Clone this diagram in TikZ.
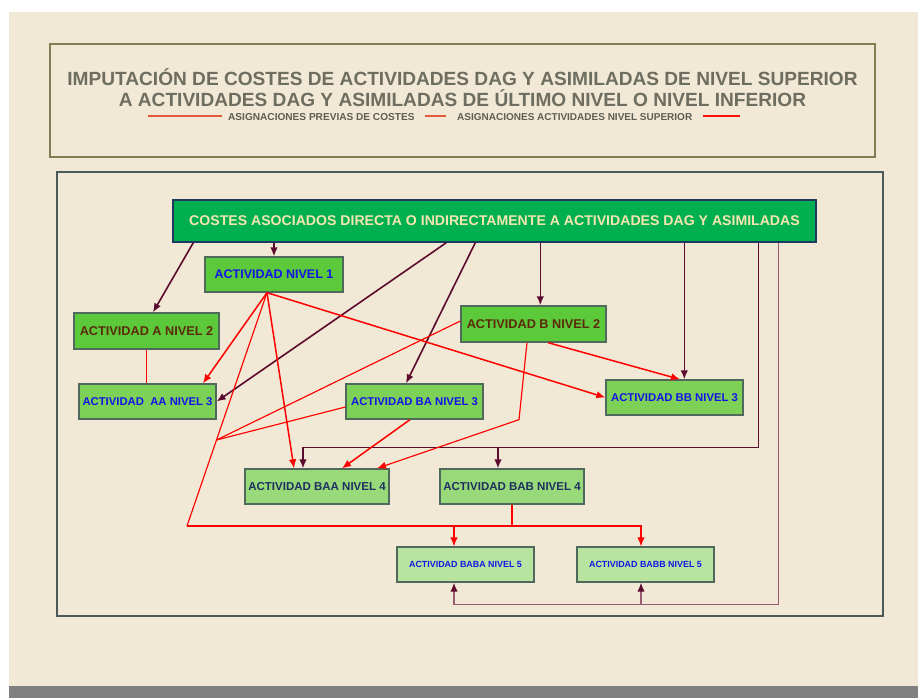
\documentclass[tikz,border=0pt]{standalone}
\usepackage{fontspec}
\setmainfont{Liberation Sans}
\usetikzlibrary{arrows.meta}
\definecolor{bg}{HTML}{F1E8D5}
\definecolor{barg}{HTML}{808080}
\definecolor{olivebd}{HTML}{7E7E52}
\definecolor{framebd}{HTML}{4A5A58}
\definecolor{titleg}{HTML}{6E6E60}
\definecolor{subred}{HTML}{E2583A}
\definecolor{topfill}{HTML}{00B050}
\definecolor{topbd}{HTML}{1F3A5F}
\definecolor{cream}{HTML}{F5E6B0}
\definecolor{gA}{HTML}{5CC93A}
\definecolor{gB}{HTML}{7ED157}
\definecolor{gC}{HTML}{98D97A}
\definecolor{gD}{HTML}{B8E3A0}
\definecolor{boxbd}{HTML}{4F6A5C}
\definecolor{bluet}{HTML}{1414E6}
\definecolor{brownt}{HTML}{5A2A0A}
\definecolor{navyt}{HTML}{1F3060}
\definecolor{mar}{HTML}{5C0A2E}
\definecolor{mauve}{HTML}{9A5A70}
\definecolor{redl}{HTML}{FF0000}
\tikzset{
  lvA/.style={draw=boxbd, line width=1.3pt, inner sep=0pt, fill=gA, minimum width=145pt, minimum height=36pt},
  lvB/.style={draw=boxbd, line width=1.3pt, inner sep=0pt, fill=gB, minimum width=137pt, minimum height=35pt, text=bluet, font=\bfseries\fontsize{11.3}{13}\selectfont},
  lvC/.style={draw=boxbd, line width=1.3pt, inner sep=0pt, fill=gC, minimum width=144pt, minimum height=35pt, text=navyt, font=\bfseries\fontsize{11.5}{13}\selectfont},
  lvD/.style={draw=boxbd, line width=1.3pt, inner sep=0pt, fill=gD, minimum width=137pt, minimum height=35pt, text=bluet, font=\bfseries\fontsize{8.9}{10}\selectfont},
  tip/.style={-{Latex[length=9pt,width=7.5pt]}},
  mline/.style={draw=mar, line width=1.6pt},
  mvline/.style={draw=mauve, line width=1.6pt},
  rline/.style={draw=redl, line width=1.5pt},
  rthin/.style={draw=redl, line width=1.15pt}
}
\begin{document}
\begin{tikzpicture}[x=1pt,y=-1pt]
\useasboundingbox (0,0) rectangle (918,698);
\fill[white] (0,0) rectangle (918,698);
\fill[bg] (9,12) rectangle (918,686);
\fill[barg] (9,686) rectangle (918,698);

% title box
\draw[olivebd, line width=1.7pt] (50,44) rectangle (875,157);
\node[anchor=base, text=titleg, font=\bfseries\fontsize{19.1}{22}\selectfont, inner sep=0pt] (title1) at (462.5,85.5)
  {IMPUTACIÓN DE COSTES DE ACTIVIDADES DAG Y ASIMILADAS DE NIVEL SUPERIOR};
\node[anchor=base, text=titleg, font=\bfseries\fontsize{19.1}{22}\selectfont, inner sep=0pt] (title2) at (462.5,107)
  {A ACTIVIDADES DAG Y ASIMILADAS DE ÚLTIMO NIVEL O NIVEL INFERIOR};
\node[anchor=base west, text=titleg!85!black, font=\bfseries\fontsize{10.1}{12}\selectfont, inner sep=0pt] (sub1) at (228,121)
  {ASIGNACIONES PREVIAS DE COSTES};
\node[anchor=base west, text=titleg!85!black, font=\bfseries\fontsize{10}{12}\selectfont, inner sep=0pt] (sub2) at (457,121)
  {ASIGNACIONES ACTIVIDADES NIVEL SUPERIOR};
\coordinate (sl1a) at (148,116); \coordinate (sl1b) at (222,116);
\coordinate (sl2a) at (425,116); \coordinate (sl2b) at (446,116);
\coordinate (sl3a) at (703,116); \coordinate (sl3b) at (740,116);
\draw[subred, line width=1.5pt] (sl1a) -- (sl1b);
\draw[subred, line width=1.5pt] (sl2a) -- (sl2b);
\draw[redl!80!subred, line width=1.5pt] (sl3a) -- (sl3b);

% main frame
\draw[framebd, line width=2.2pt] (57,172) rectangle (883,616);

% nodes
\node[draw=topbd, line width=1.4pt, fill=topfill, inner sep=0pt, minimum width=643pt, minimum height=42pt,
      text=cream, font=\bfseries\fontsize{14.1}{16}\selectfont] (top) at (494.5,221)
  {COSTES ASOCIADOS DIRECTA O INDIRECTAMENTE A ACTIVIDADES DAG Y ASIMILADAS};
\node[lvA, minimum width=138pt, minimum height=35pt, text=bluet, font=\bfseries\fontsize{12.5}{14}\selectfont] (n1) at (274,274.5) {ACTIVIDAD NIVEL 1};
\node[lvA, text=brownt, font=\bfseries\fontsize{12.7}{14}\selectfont] (a2) at (146.5,331) {ACTIVIDAD A NIVEL 2};
\node[lvA, text=brownt, font=\bfseries\fontsize{12.7}{14}\selectfont] (b2) at (533.5,324) {ACTIVIDAD B NIVEL 2};
\node[lvB] (aa3) at (147.5,401.5) {ACTIVIDAD\ \ AA NIVEL 3};
\node[lvB] (ba3) at (414.5,401.5) {ACTIVIDAD BA NIVEL 3};
\node[lvB] (bb3) at (674.5,397.5) {ACTIVIDAD BB NIVEL 3};
\node[lvC] (baa4) at (317,486.5) {ACTIVIDAD BAA NIVEL 4};
\node[lvC] (bab4) at (512,486.5) {ACTIVIDAD BAB NIVEL 4};
\node[lvD] (baba5) at (465.5,564.5) {ACTIVIDAD BABA NIVEL 5};
\node[lvD] (babb5) at (645.5,564.5) {ACTIVIDAD BABB NIVEL 5};

% exit points on top node
\coordinate (t1) at ([xshift=21pt]top.south west);
\coordinate (t3) at ([xshift=274pt]top.south west);
\coordinate (t4) at ([xshift=303pt]top.south west);
\coordinate (t5) at ([xshift=368pt]top.south west);
\coordinate (t6) at ([xshift=512pt]top.south west);
\coordinate (t7) at ([xshift=586pt]top.south west);
\coordinate (t8) at ([xshift=606pt]top.south west);

% maroon connectors
\draw[mline, tip] (t1) -- ([xshift=6.5pt]a2.north);
\draw[mline, tip] (top.south -| n1.north) -- (n1.north);
\draw[mline, tip] (t3) -- (aa3.east);
\draw[mline, tip] (t4) -- ([xshift=-8.5pt]ba3.north);
\draw[mline, tip] (t5) -- (t5 |- b2.north);
\draw[mline, tip] (t6) -- (t6 |- bb3.north);
\coordinate (m7a) at ([xshift=-14pt,yshift=21pt]baa4.north);
\coordinate (m7b) at ([xshift=-14pt,yshift=21pt]bab4.north);
\draw[mline, tip] (t7) |- (m7a) -- ([xshift=-14pt]baa4.north);
\draw[mline, tip] (m7b) -- ([xshift=-14pt]bab4.north);
\coordinate (m8a) at ([xshift=-11.5pt,yshift=-22pt]baba5.south);
\coordinate (m8b) at ([xshift=-4.5pt,yshift=-22pt]babb5.south);
\draw[mvline, -{Latex[length=9pt,width=7.5pt,color=mar]}] (t8) |- (m8a) -- ([xshift=-11.5pt]baba5.south);
\draw[mvline, -{Latex[length=9pt,width=7.5pt,color=mar]}] (m8b) -- ([xshift=-4.5pt]babb5.south);

% red connectors
\coordinate (p1) at ([xshift=-7pt]n1.south);
\coordinate (jj) at (216.5,440);
\coordinate (kk) at (187,526);
\coordinate (d1) at ([xshift=-11.5pt]baba5.north);
\coordinate (d2) at ([xshift=-4.5pt]babb5.north);
\draw[rline, tip] (p1) -- ([xshift=55.5pt]aa3.north);
\draw[rline, tip] (p1) -- ([xshift=-23pt]baa4.north);
\draw[rline, tip] (p1) -- (bb3.west);
\draw[rthin] (p1) -- (kk);
\draw[rthin] ([yshift=3pt]b2.west) -- (jj);
\draw[rthin] ([yshift=-5.5pt]ba3.west) -- (jj);
\draw[rthin, tip] ([xshift=-6.5pt]b2.south) -- ++(-8,77) -- ([xshift=60pt]baa4.north);
\draw[rline, tip] ([xshift=14.5pt]b2.south) -- ([xshift=5.5pt]bb3.north);
\draw[rline, tip] ([xshift=-4.5pt]ba3.south) -- ([xshift=25pt]baa4.north);
\draw[rthin] (a2.south) -- (a2.south |- aa3.north);
\draw[rthin] (bab4.south) -- (bab4.south |- kk);
\draw[rthin, tip] (kk) -- (kk -| d2) -- (d2);
\draw[rthin, tip] (kk -| d1) -- (d1);
\end{tikzpicture}
\end{document}
